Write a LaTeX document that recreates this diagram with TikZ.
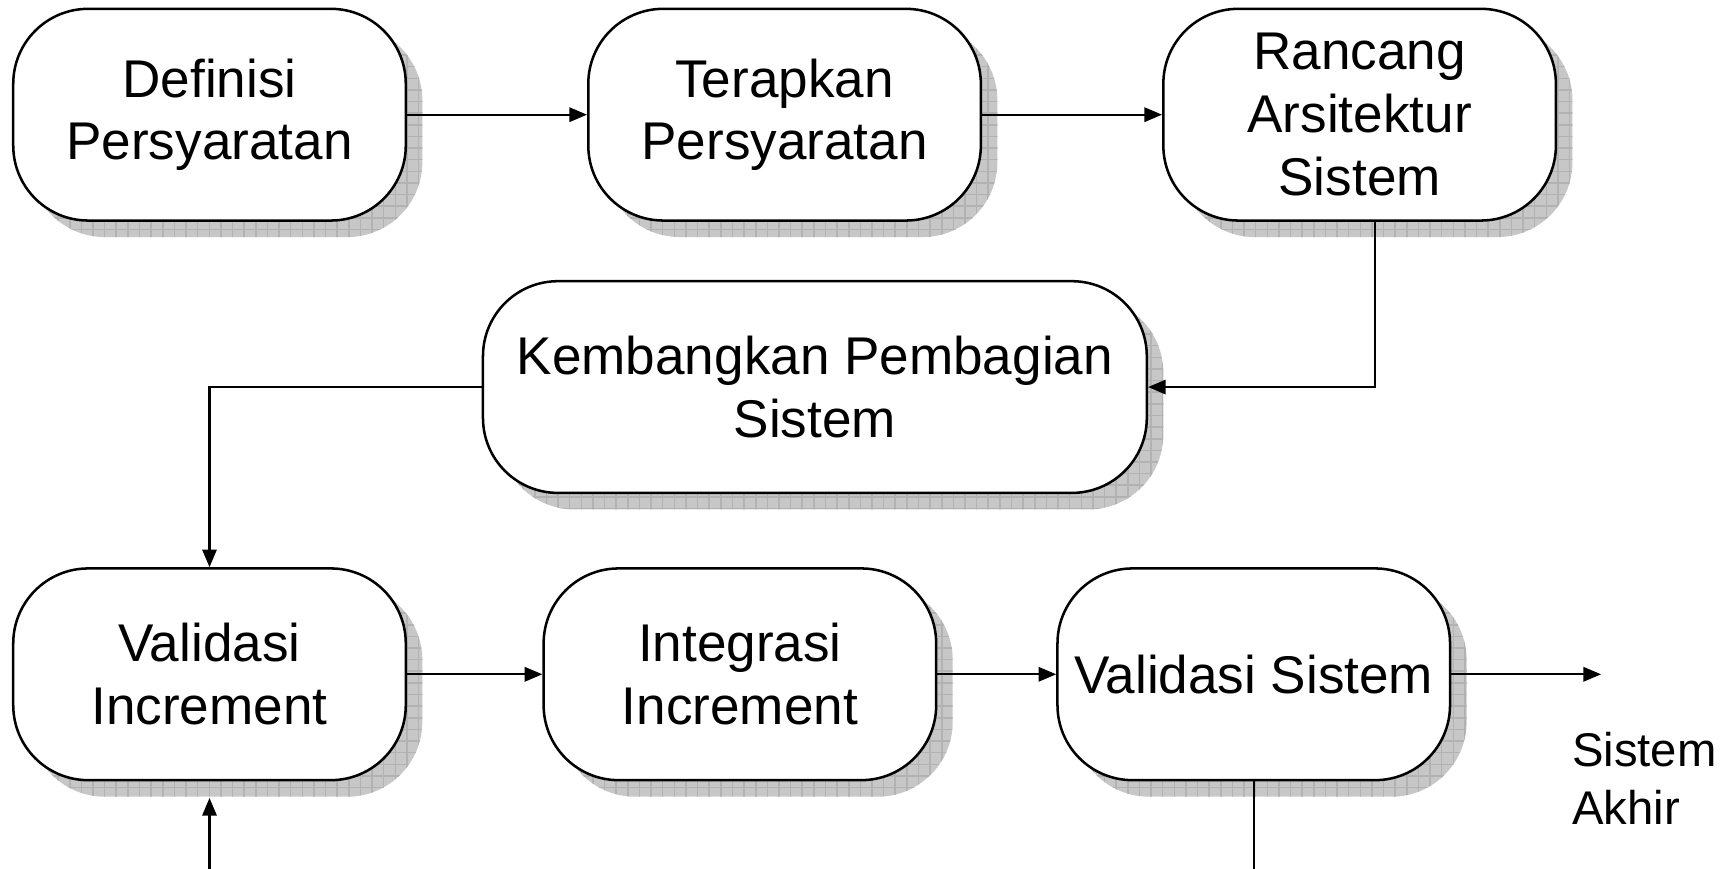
\documentclass[tikz,border=0pt]{standalone}
\usepackage{fontspec}
\setmainfont{Liberation Sans}
\usepackage{tikz}
\usetikzlibrary{arrows.meta, shadows, patterns}

\begin{document}
\begin{tikzpicture}[
	box/.style={draw, line width=0.65pt, fill=white, rounded corners=6.8mm,
		minimum width=35.6mm, minimum height=19.2mm, inner sep=0pt, align=center,
		font=\fontsize{13.7}{16.2}\selectfont,
		general shadow={shadow xshift=1.5mm, shadow yshift=-1.5mm, fill=black!22},
		general shadow={shadow xshift=1.5mm, shadow yshift=-1.5mm, pattern=grid, pattern color=black!30}},
	link/.style={line width=0.55pt, -{Triangle[length=1.6mm, width=1.3mm]}}]
	\useasboundingbox (0,0) rectangle (15.68,-7.88);
	\node[box] (defi) at (1.90,-1.04) {Definisi\\Persyaratan};
	\node[box] (terap) at (7.115,-1.04) {Terapkan\\Persyaratan};
	\node[box] (rancang) at (12.33,-1.04) {Rancang\\Arsitektur\\Sistem};
	\node[box, minimum width=60.2mm] (kemb) at (7.39,-3.51) {Kembangkan Pembagian\\Sistem};
	\node[box] (valinc) at (1.90,-6.115) {Validasi\\Increment};
	\node[box] (integ) at (6.71,-6.115) {Integrasi\\Increment};
	\node[box] (valsis) at (11.37,-6.115) {Validasi Sistem};
	\node[anchor=west, align=left, inner sep=0pt, font=\fontsize{12.2}{14.8}\selectfont] (akhir) at (14.25,-7.06) {Sistem\\Akhir};
	\coordinate (keluar) at (14.52,-6.115);
	\coordinate (bawahkiri) at (1.90,-7.88);
	\coordinate (bawahkanan) at (11.37,-7.88);
	\draw[link] (defi) -- (terap);
	\draw[link] (terap) -- (rancang);
	\draw[link] ([xshift=1.4mm]rancang.south) |- (kemb.east);
	\draw[link] (kemb.west) -| (valinc.north);
	\draw[link] (valinc) -- (integ);
	\draw[link] (integ) -- (valsis);
	\draw[link] (valsis) -- (keluar);
	\draw[link] (bawahkiri) -- ([yshift=-1.5mm]valinc.south);
	\draw[line width=0.55pt] (valsis.south) -- (bawahkanan);
\end{tikzpicture}
\end{document}
